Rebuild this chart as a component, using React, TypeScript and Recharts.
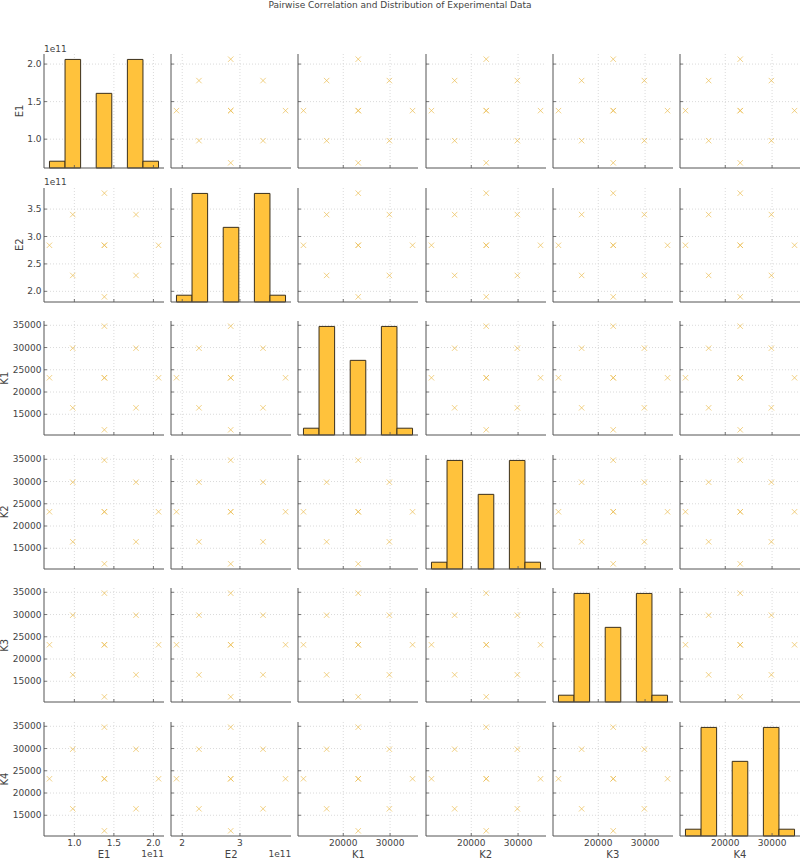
import React from 'react';
import { ComposedChart, Scatter, XAxis, YAxis, CartesianGrid, ReferenceArea } from 'recharts';

const title = 'Pairwise Correlation and Distribution of Experimental Data';
const variables = ['E1', 'E2', 'K1', 'K2', 'K3', 'K4'];

// five distinct levels
const levelsE1 = [0.685e11, 0.98e11, 1.38e11, 1.78e11, 2.065e11];
const levelsE2 = [1.9e11, 2.29e11, 2.84e11, 3.4e11, 3.79e11];
const levelsK1 = [11500, 16450, 23200, 29850, 34800];
const levelsK2 = [11500, 16450, 23200, 29850, 34800];
const levelsK3 = [11500, 16450, 23200, 29850, 34800];
const levelsK4 = [11500, 16450, 23200, 29850, 34800];

// (x level, y level) for the points of every off-diagonal panel; centre overlaps
const pointPattern = [
  [2, 4], [1, 3], [3, 3], [0, 2], [2, 2], [2, 2], [4, 2], [1, 1], [2, 0], [3, 1],
];

// counts in 7 equal bins between min and max
const histCounts = [1, 16, 0, 11, 0, 16, 1];

const ticksE1 = [1e11, 1.5e11, 2e11];
const yTicksE2 = [2e11, 2.5e11, 3e11, 3.5e11];
const xTicksE2 = [2e11, 3e11];
const yTicksK = [15000, 20000, 25000, 30000, 35000];
const xTicksK = [20000, 30000];

const levels: Record<string, number[]> = {
  E1: levelsE1, E2: levelsE2, K1: levelsK1, K2: levelsK2, K3: levelsK3, K4: levelsK4,
};

const PW = 120;
const PH = 114;
const colLeft = (c: number) => 44 + c * 127.2;
const rowTop = (r: number) => 54 + r * 133.6;
const TEXT = '#444';
const FONT = 'DejaVu Sans, sans-serif';

const domainOf = (v: string): [number, number] => {
  const l = levels[v];
  const span = l[4] - l[0];
  return [l[0] - span * 0.05, l[4] + span * 0.05];
};

const isE = (v: string) => v.startsWith('E');
const yTicksOf = (v: string) => (v === 'E1' ? ticksE1 : v === 'E2' ? yTicksE2 : yTicksK);
const xTicksOf = (v: string) => (v === 'E1' ? ticksE1 : v === 'E2' ? xTicksE2 : xTicksK);
const yFmt = (v: string) => (n: number) => (isE(v) ? (n / 1e11).toFixed(1) : String(n));
const xFmt = (v: string) => (n: number) =>
  v === 'E1' ? (n / 1e11).toFixed(1) : v === 'E2' ? (n / 1e11).toFixed(0) : String(n);

const XMark = (props: any) => {
  const { cx, cy } = props;
  if (cx == null || cy == null) return null;
  const r = 2.7;
  return (
    <path
      d={`M${cx - r},${cy - r}L${cx + r},${cy + r}M${cx - r},${cy + r}L${cx + r},${cy - r}`}
      stroke="#ebbe52"
      strokeOpacity={0.7}
      strokeWidth={1}
      fill="none"
    />
  );
};

function Cell({ r, c }: { r: number; c: number }) {
  const rv = variables[r];
  const cv = variables[c];
  const showY = c === 0;
  const showX = r === variables.length - 1;
  const fy = yFmt(rv);
  const fx = xFmt(cv);

  const yTick = (p: any) => (
    <g>
      <line x1={p.x} x2={p.x + 3} y1={p.y} y2={p.y} stroke="#555" strokeWidth={0.8} />
      {showY && (
        <text x={p.x - 2.5} y={p.y} dy="0.35em" textAnchor="end" fontSize={9} fill={TEXT} fontFamily={FONT}>
          {fy(p.payload.value)}
        </text>
      )}
    </g>
  );
  const xTick = (p: any) => (
    <g>
      <line x1={p.x} x2={p.x} y1={p.y} y2={p.y - 3} stroke="#555" strokeWidth={0.8} />
      {showX && (
        <text x={p.x} y={p.y + 3} dy="0.75em" textAnchor="middle" fontSize={9} fill={TEXT} fontFamily={FONT}>
          {fx(p.payload.value)}
        </text>
      )}
    </g>
  );

  const xl = levels[cv];
  const yl = levels[rv];
  const points = pointPattern.map(([i, j]) => ({ x: xl[i], y: yl[j] }));
  const width = (xl[4] - xl[0]) / histCounts.length;
  const bins = histCounts.map((n, k) => ({ x0: xl[0] + k * width, x1: xl[0] + (k + 1) * width, n }));
  const maxCount = Math.max(...histCounts);

  return (
    <div style={{ position: 'absolute', left: colLeft(c) - 44, top: rowTop(r) - 10 }}>
      <ComposedChart width={44 + PW + 6} height={10 + PH + 20} margin={{ top: 10, right: 6, bottom: 0, left: 0 }}>
        <CartesianGrid
          stroke="#dadada"
          strokeDasharray="1 2"
          horizontalValues={yTicksOf(rv)}
          verticalValues={xTicksOf(cv)}
        />
        <XAxis
          dataKey="x"
          type="number"
          domain={domainOf(cv)}
          allowDataOverflow
          ticks={xTicksOf(cv)}
          interval={0}
          height={20}
          tickSize={0}
          tickMargin={0}
          tickLine={false}
          tick={xTick}
          axisLine={{ stroke: '#555', strokeWidth: 1 }}
        />
        <YAxis
          type="number"
          domain={domainOf(rv)}
          allowDataOverflow
          ticks={yTicksOf(rv)}
          interval={0}
          width={44}
          tickSize={0}
          tickMargin={0}
          tickLine={false}
          tick={yTick}
          axisLine={{ stroke: '#555', strokeWidth: 1 }}
        />
        {r === c && (
          <YAxis yAxisId="count" type="number" domain={[0, maxCount * 1.05]} allowDataOverflow hide />
        )}
        {r === c &&
          bins
            .filter((b) => b.n > 0)
            .map((b, k) => (
              <ReferenceArea
                key={k}
                yAxisId="count"
                x1={b.x0}
                x2={b.x1}
                y1={0}
                y2={b.n}
                fill="#ffc23c"
                fillOpacity={1}
                stroke="#3a2f1c"
                strokeWidth={1}
                strokeOpacity={1}
              />
            ))}
        {r !== c && (
          <Scatter data={points} dataKey="y" shape={<XMark />} isAnimationActive={false} />
        )}
      </ComposedChart>
    </div>
  );
}

export default function App() {
  return (
    <div style={{ position: 'absolute', left: 0, top: 0, width: 800, height: 860, background: '#fff' }}>
      {variables.map((_, r) => variables.map((__, c) => <Cell key={`${r}-${c}`} r={r} c={c} />))}
      <svg width={800} height={860} style={{ position: 'absolute', left: 0, top: 0, pointerEvents: 'none' }}>
        <text x={400} y={8} textAnchor="middle" fontSize={9} fill={TEXT} fontFamily={FONT}>
          {title}
        </text>
        {variables.map((v, r) => (
          <text
            key={`rl${v}`}
            transform={`translate(${isE(v) ? 19 : 4.5},${rowTop(r) + PH / 2}) rotate(-90)`}
            textAnchor="middle"
            dy="0.35em"
            fontSize={10}
            fill={TEXT}
            fontFamily={FONT}
          >
            {v}
          </text>
        ))}
        {variables.map((v, c) => (
          <text
            key={`cl${v}`}
            x={colLeft(c) + PW / 2}
            y={854}
            dy="0.35em"
            textAnchor="middle"
            fontSize={10}
            fill={TEXT}
            fontFamily={FONT}
          >
            {v}
          </text>
        ))}
        {variables.filter(isE).map((v, r) => (
          <text key={`oy${v}`} x={colLeft(0)} y={rowTop(r) - 5.5} dy="0.35em" fontSize={9} fill={TEXT} fontFamily={FONT}>
            1e11
          </text>
        ))}
        {variables.filter(isE).map((v, c) => (
          <text
            key={`ox${v}`}
            x={colLeft(c) + PW}
            y={854}
            dy="0.35em"
            textAnchor="end"
            fontSize={9}
            fill={TEXT}
            fontFamily={FONT}
          >
            1e11
          </text>
        ))}
      </svg>
    </div>
  );
}
